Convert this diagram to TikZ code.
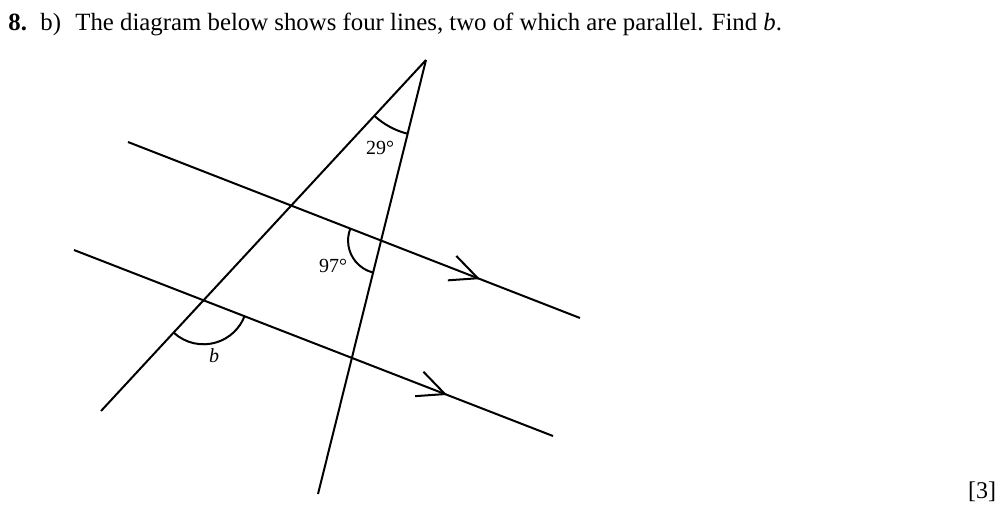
\documentclass[tikz,border=0pt]{standalone}
\usepackage{fontspec}
\setmainfont{Liberation Serif}
\usetikzlibrary{calc,intersections}
\begin{document}
\begin{tikzpicture}[x=0.5pt,y=-0.5pt,
  geoline/.style={line width=1pt},
  anglearc/.style={line width=1pt},
  chev/.style={line width=1pt},
  angtext/.style={font=\fontsize{10}{12}\selectfont, inner sep=0pt},
  titletext/.style={font=\fontsize{12.4}{14}\selectfont, anchor=base west, inner sep=0pt}]
\useasboundingbox (0,0) rectangle (1000,510);
% title
\node[titletext] (num) at (8,30) {\textbf{8.}};
\node[titletext] (part) at (40,30) {b)};
\node[titletext] (q) at (75,30) {The diagram below shows four lines, two of which are parallel. Find \textit{b}.};
% points
\coordinate (A) at (426,60);
\coordinate (L3) at (101,411);
\coordinate (L4) at (318,494);
\coordinate (P1s) at (128,142);
\coordinate (P1e) at (580,318);
\coordinate (P2s) at (74,250);
\coordinate (P2e) at (553,436);
% lines
\draw[geoline, name path=l1] (P1s) -- (P1e);
\draw[geoline, name path=l2] (P2s) -- (P2e);
\draw[geoline, name path=l3] (A) -- (L3);
\draw[geoline, name path=l4] (A) -- (L4);
\path[name intersections={of=l1 and l4, by=X14}];
\path[name intersections={of=l2 and l3, by=X23}];
% angle arcs
\draw[anglearc] ($(A)+(227.2:38pt)$) arc[start angle=227.2, end angle=256, radius=38pt];
\draw[anglearc] ($(X14)+(158.7:16.5pt)$) arc[start angle=158.7, end angle=256, radius=16.5pt];
\draw[anglearc] ($(X23)+(227.2:22pt)$) arc[start angle=227.2, end angle=338.8, radius=22pt];
% parallel arrows
\coordinate (T1) at ($(P1s)!0.774!(P1e)$);
\coordinate (T2) at ($(P2s)!0.7745!(P2e)$);
\draw[chev] ($(T1)+(134:15.5pt)$) -- (T1) -- ($(T1)+(184:15pt)$);
\draw[chev] ($(T2)+(134:15.5pt)$) -- (T2) -- ($(T2)+(184:15pt)$);
% labels
\node[angtext] (a29) at (380,148) {29°};
\node[angtext] (a97) at (333,266) {97°};
\node[angtext] (ab) at (214,356) {\textit{b}};
\node[font=\fontsize{12}{14}\selectfont, inner sep=0pt] (marks) at (982,492) {[3]};
\end{tikzpicture}
\end{document}
